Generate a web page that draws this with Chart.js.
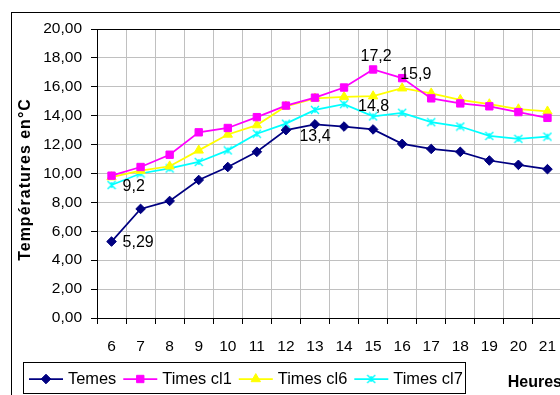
<!DOCTYPE html>
<html>
<head>
<meta charset="utf-8">
<title>Températures</title>
<script src="https://cdn.jsdelivr.net/npm/chart.js@4/dist/chart.umd.min.js"></script>
<style>
  html, body { margin: 0; padding: 0; background: #fff; }
  body { width: 560px; height: 395px; overflow: hidden; position: relative; }
  canvas { position: absolute; left: 0; top: 0; }
</style>
</head>
<body>
<canvas id="chart" width="600" height="420"></canvas>
<script>
// hours of the day (x axis)
const hours = ['6', '7', '8', '9', '10', '11', '12', '13', '14', '15', '16', '17', '18', '19', '20', '21'];

// temperatures in °C
const temes    = [5.29, 7.55, 8.1, 9.55, 10.45, 11.5, 13.0, 13.4, 13.25, 13.05, 12.05, 11.7, 11.5, 10.9, 10.6, 10.3];
const timesCl1 = [9.85, 10.45, 11.3, 12.85, 13.15, 13.9, 14.7, 15.25, 15.95, 17.2, 16.6, 15.2, 14.85, 14.65, 14.25, 13.85];
const timesCl6 = [9.75, 10.2, 10.5, 11.6, 12.7, 13.35, 14.65, 15.2, 15.3, 15.35, 15.9, 15.55, 15.1, 14.8, 14.45, 14.3];
const timesCl7 = [9.2, 10.0, 10.35, 10.8, 11.6, 12.75, 13.45, 14.4, 14.8, 13.95, 14.2, 13.55, 13.25, 12.6, 12.4, 12.55];

const seriesNames = ['Temes', 'Times cl1', 'Times cl6', 'Times cl7'];
const yTitle = 'Températures en°C';
const xTitle = 'Heures';

// which points get a value label
const labelledPoints = [
  { series: 0, index: 0 },
  { series: 3, index: 0 },
  { series: 0, index: 7 },
  { series: 1, index: 9 },
  { series: 2, index: 10 },
  { series: 3, index: 8 }
];
// where each label sits relative to its point
const labelPlacement = [
  { align: 'left', dx: 11, dy: 1 },
  { align: 'left', dx: 11, dy: 2 },
  { align: 'center', dx: 0, dy: 12.5 },
  { align: 'center', dx: 3, dy: -13 },
  { align: 'left', dx: -2, dy: -14 },
  { align: 'left', dx: 14, dy: 2 }
];

const FONT = "'Liberation Sans', Arial, sans-serif";
const fmt = v => String(v).replace('.', ',');

// Excel-like star marker: an x with a vertical stroke
function starMarker(color) {
  const c = document.createElement('canvas');
  c.width = 10;
  c.height = 10;
  const g = c.getContext('2d');
  g.strokeStyle = color;
  g.lineWidth = 1.4;
  g.beginPath();
  g.moveTo(1, 1); g.lineTo(9, 9);
  g.moveTo(9, 1); g.lineTo(1, 9);
  g.moveTo(5, 2); g.lineTo(5, 8);
  g.stroke();
  return c;
}

function series(label, data, color, pointStyle, radius) {
  return {
    label: label,
    data: data,
    borderColor: color,
    backgroundColor: color,
    pointBackgroundColor: color,
    pointBorderColor: color,
    pointStyle: pointStyle,
    pointRadius: radius,
    pointHoverRadius: radius,
    pointBorderWidth: 1,
    borderWidth: 1.75,
    tension: 0,
    fill: false
  };
}

const datasets = [
  series(seriesNames[0], temes, '#000080', 'rectRot', 4.8),
  series(seriesNames[1], timesCl1, '#ff00ff', 'rect', 5.2),
  series(seriesNames[2], timesCl6, '#ffff00', 'triangle', 5.4),
  series(seriesNames[3], timesCl7, '#00ffff', starMarker('#00ffff'), 5)
];

const decorPlugin = {
  id: 'decor',
  beforeDraw(chart) {
    const ctx = chart.ctx;
    ctx.save();
    ctx.fillStyle = '#fff';
    ctx.fillRect(0, 0, chart.width, chart.height);
    ctx.strokeStyle = '#000';
    ctx.lineWidth = 1;
    ctx.strokeRect(11.5, 12.5, chart.width, chart.height);
    ctx.restore();
  },
  afterDatasetsDraw(chart) {
    const ctx = chart.ctx;
    ctx.save();
    ctx.font = `16px ${FONT}`;
    ctx.fillStyle = '#000';
    ctx.textBaseline = 'middle';
    labelledPoints.forEach((p, i) => {
      const pt = chart.getDatasetMeta(p.series).data[p.index];
      const place = labelPlacement[i];
      ctx.textAlign = place.align;
      ctx.fillText(fmt(chart.data.datasets[p.series].data[p.index]), pt.x + place.dx, pt.y + place.dy);
    });
    ctx.restore();
  },
  afterDraw(chart) {
    const ctx = chart.ctx;
    const area = chart.chartArea;
    ctx.save();

    // plot area top border
    ctx.strokeStyle = '#000';
    ctx.lineWidth = 1;
    ctx.beginPath();
    ctx.moveTo(area.left, area.top + 0.5);
    ctx.lineTo(area.right, area.top + 0.5);
    ctx.stroke();

    // y axis title
    ctx.save();
    ctx.translate(26, 179.5);
    ctx.rotate(-Math.PI / 2);
    ctx.font = `bold 16px ${FONT}`;
    ctx.letterSpacing = '1px';
    ctx.fillStyle = '#000';
    ctx.textAlign = 'center';
    ctx.textBaseline = 'middle';
    ctx.fillText(yTitle, 0, 0);
    ctx.restore();

    // legend box with line + marker samples
    ctx.strokeRect(23.5, 362.5, 442, 31);
    ctx.font = `16.4px ${FONT}`;
    ctx.textBaseline = 'middle';
    ctx.textAlign = 'left';
    const cy = 379;
    let x = 29;
    chart.data.datasets.forEach(ds => {
      ctx.strokeStyle = ds.borderColor;
      ctx.fillStyle = ds.backgroundColor;
      ctx.lineWidth = 1.75;
      ctx.beginPath();
      ctx.moveTo(x, cy);
      ctx.lineTo(x + 34, cy);
      ctx.stroke();
      ctx.lineWidth = 1;
      Chart.helpers.drawPoint(ctx, {
        pointStyle: ds.pointStyle,
        radius: ds.pointRadius,
        borderWidth: 1,
        rotation: 0
      }, x + 17, cy);
      ctx.fillStyle = '#000';
      ctx.fillText(ds.label, x + 39, cy);
      x += 39 + ctx.measureText(ds.label).width + 7;
    });
    ctx.restore();
  }
};

new Chart(document.getElementById('chart'), {
  type: 'line',
  data: { labels: hours, datasets: datasets },
  plugins: [decorPlugin],
  options: {
    responsive: false,
    animation: false,
    devicePixelRatio: 1,
    layout: { padding: { top: 29, right: 38, bottom: 0, left: 0 } },
    plugins: {
      legend: { display: false },
      tooltip: { enabled: false }
    },
    scales: {
      x: {
        offset: true,
        afterFit: scale => { scale.height = 102; },
        grid: { offset: true, color: '#c0c0c0', tickColor: '#000', tickLength: 6 },
        border: { color: '#000', width: 1 },
        ticks: {
          color: '#000',
          padding: 13,
          maxRotation: 0,
          autoSkip: false,
          font: { family: FONT, size: 15.5 }
        },
        title: {
          display: true,
          text: xTitle,
          align: 'end',
          color: '#000',
          padding: { top: 0, bottom: 28 },
          font: { family: FONT, size: 16, weight: 'bold' }
        }
      },
      y: {
        min: 0,
        max: 20,
        afterFit: scale => { scale.width = 97; },
        grid: { color: '#c0c0c0', tickColor: '#000', tickLength: 6 },
        border: { color: '#000', width: 1 },
        ticks: {
          stepSize: 2,
          color: '#000',
          padding: 9,
          font: { family: FONT, size: 15.5 },
          callback: v => v.toFixed(2).replace('.', ',')
        }
      }
    }
  }
});
</script>
</body>
</html>
